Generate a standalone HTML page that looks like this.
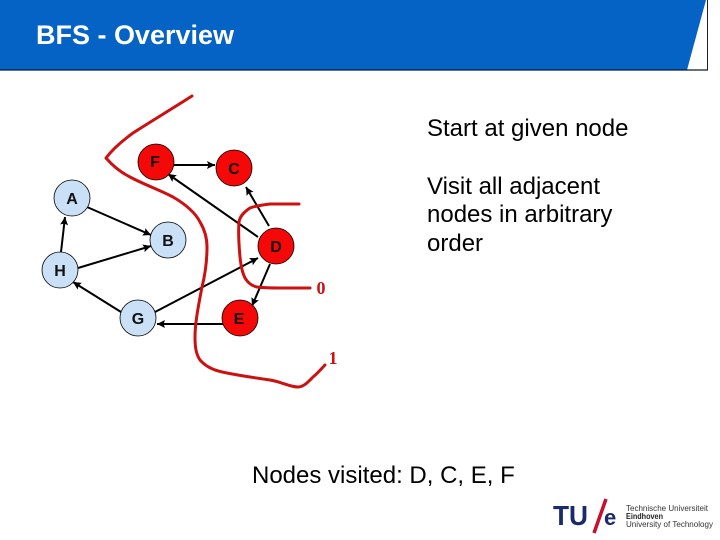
<!DOCTYPE html>
<html>
<head>
<meta charset="utf-8">
<style>
html,body{margin:0;padding:0;background:#fff;}
body{width:720px;height:540px;overflow:hidden;position:relative;}
svg{position:absolute;left:0;top:0;}
text{font-family:"Liberation Sans",sans-serif;}
</style>
</head>
<body>
<svg width="720" height="540" viewBox="0 0 720 540" xmlns="http://www.w3.org/2000/svg">
<defs>
<marker id="a" markerWidth="10" markerHeight="10" refX="8" refY="4" orient="auto" markerUnits="userSpaceOnUse">
<path d="M0,0 L8,4 L0,8 L1.500,4 Z" fill="#000"/>
</marker>
</defs>
<rect x="0" y="0" width="720" height="540" fill="#fff"/>
<polygon points="0,0 706,0 687,70 0,70" fill="#0563c6"/>
<line x1="0" y1="70" x2="708" y2="70" stroke="#0b1a3a" stroke-width="1.2"/>
<line x1="707.500" y1="0" x2="707.500" y2="70" stroke="#222" stroke-width="1"/>
<text x="36" y="44" font-size="27" font-weight="bold" fill="#fff" textLength="198" lengthAdjust="spacing">BFS - Overview</text>

<text x="427" y="136" font-size="24" fill="#000">Start at given node</text>
<text x="427" y="194" font-size="24" fill="#000">Visit all adjacent</text>
<text x="427" y="222" font-size="24" fill="#000">nodes in arbitrary</text>
<text x="427" y="251" font-size="24" fill="#000">order</text>
<text x="252" y="483" font-size="24" fill="#000">Nodes visited: D, C, E, F</text>

<g stroke="#000" stroke-width="2" fill="none">
<line x1="174" y1="165" x2="215" y2="165" marker-end="url(#a)"/>
<line x1="258" y1="237" x2="168" y2="174" marker-end="url(#a)"/>
<line x1="269" y1="226" x2="246" y2="187" marker-end="url(#a)"/>
<line x1="87" y1="207" x2="151" y2="235" marker-end="url(#a)"/>
<line x1="61" y1="252" x2="65" y2="217" marker-end="url(#a)"/>
<line x1="78" y1="268" x2="151" y2="246" marker-end="url(#a)"/>
<line x1="121" y1="312" x2="73" y2="282" marker-end="url(#a)"/>
<line x1="155" y1="312" x2="258" y2="258" marker-end="url(#a)"/>
<line x1="270" y1="264" x2="252" y2="306" marker-end="url(#a)"/>
<line x1="223" y1="324" x2="157" y2="324" marker-end="url(#a)"/>
</g>

<g stroke="#000" stroke-width="0.800">
<circle cx="156" cy="162" r="18" fill="#f40808"/>
<circle cx="234" cy="168" r="18" fill="#f40808"/>
<circle cx="276" cy="246" r="18" fill="#f40808"/>
<circle cx="240" cy="318" r="18" fill="#f40808"/>
<circle cx="72" cy="198" r="18" fill="#c9e0f7"/>
<circle cx="168" cy="240" r="18" fill="#c9e0f7"/>
<circle cx="60" cy="270" r="18" fill="#c9e0f7"/>
<circle cx="138" cy="318" r="18" fill="#c9e0f7"/>
</g>

<g font-size="16" font-weight="bold" fill="#111" text-anchor="middle">
<text x="155" y="167">F</text>
<text x="234" y="174">C</text>
<text x="276" y="252">D</text>
<text x="239" y="324">E</text>
<text x="72" y="204">A</text>
<text x="168" y="246">B</text>
<text x="60" y="276">H</text>
<text x="138" y="324">G</text>
</g>

<path d="M192,96 C170,110 150,122 133,133 C122,141 112,150 106,158 C112,165 120,172 130,177 C145,185 160,190 173,197 C185,204 195,212 200,222 C206,232 207,240 207,247 C207,262 205,275 202,287 C199,303 195,322 195,337 C195,347 196,354 200,360 C207,368 216,371 227,373 C242,376 256,378 270,380 C282,382 290,387 298,387 C304,387 309,381 313,377 C318,373 321,369 325,365" fill="none" stroke="#cc1111" stroke-width="3" stroke-linecap="round" stroke-linejoin="round"/>
<path d="M299,204 C288,204 279,204 270,204 C262,205 255,206 250,208 C244,212 240,216 239,222 C238,234 239,246 240,257 C241,266 242,272 245,278 C248,283 252,286 257,287 C265,288 272,288 280,288 C290,288 300,288 310,288" fill="none" stroke="#cc1111" stroke-width="3" stroke-linecap="round" stroke-linejoin="round"/>

<text x="321" y="294" font-size="18" font-weight="bold" fill="#cc1111" text-anchor="middle" style="font-family:'Liberation Serif',serif">0</text>
<text x="333" y="364" font-size="18" font-weight="bold" fill="#cc1111" text-anchor="middle" style="font-family:'Liberation Serif',serif">1</text>

<text x="553" y="525" font-size="28" font-weight="bold" fill="#1a2a6c" textLength="35" lengthAdjust="spacingAndGlyphs">TU</text>
<line x1="594" y1="533" x2="606" y2="499" stroke="#c8102e" stroke-width="3.500"/>
<text x="604" y="525" font-size="22" font-weight="bold" fill="#1a2a6c">e</text>
<text x="626" y="511" font-size="8" fill="#333" textLength="82" lengthAdjust="spacingAndGlyphs">Technische Universiteit</text>
<text x="626" y="519" font-size="8" font-weight="bold" fill="#222" textLength="37" lengthAdjust="spacingAndGlyphs">Eindhoven</text>
<text x="626" y="527" font-size="8" fill="#333" textLength="87" lengthAdjust="spacingAndGlyphs">University of Technology</text>
</svg>
</body>
</html>
